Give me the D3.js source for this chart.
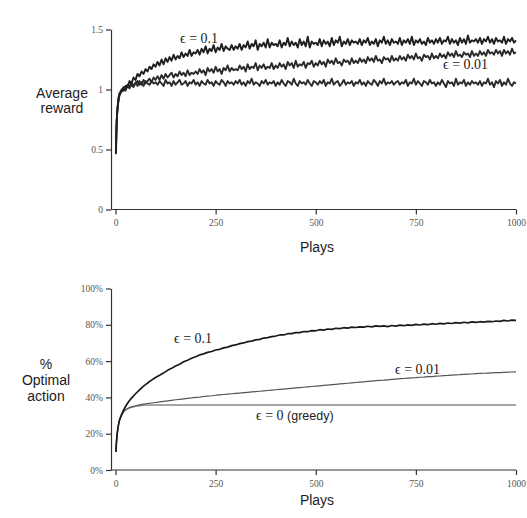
<!DOCTYPE html>
<html>
<head>
<meta charset="utf-8">
<script src="https://cdn.jsdelivr.net/npm/d3@7"></script>
<style>
  body { margin: 0; background: #fff; }
  svg { display: block; }
  .tick text { font-family: "Liberation Serif", serif; font-size: 9.5px; fill: #555; }
  .tick line, .domain { stroke: #333; stroke-width: 1.2; }
  .title { font-family: "Liberation Sans", Arial, sans-serif; font-size: 14px; fill: #222; }
  .eps { font-family: "Liberation Serif", serif; font-size: 14px; fill: #222; }
  .eps .sans { font-family: "Liberation Sans", Arial, sans-serif; font-size: 12.5px; }
</style>
</head>
<body>
<div id="chart"></div>
<script>
// plays sampled for the average reward panel
const earlyPlays = [1, 2, 3, 4, 6, 8];
const rewardPlays = earlyPlays.concat(d3.range(10, 1001, 5));

const rewardEps01 = [
  0.47, 0.63, 0.72, 0.80, 0.87, 0.93,
  0.95, 1.00, 0.99, 1.03, 1.02, 1.07, 1.05, 1.10, 1.08, 1.13, 1.11, 1.15, 1.13, 1.17, 1.15, 1.19, 1.17, 1.21, 1.19,
  1.23, 1.20, 1.25, 1.21, 1.26, 1.23, 1.27, 1.24, 1.29, 1.25, 1.28, 1.26, 1.31, 1.27, 1.30, 1.28, 1.33, 1.28, 1.31, 1.30,
  1.33, 1.29, 1.34, 1.31, 1.36, 1.30, 1.34, 1.32, 1.37, 1.31, 1.35, 1.33, 1.38, 1.32, 1.36, 1.34, 1.33, 1.37, 1.33, 1.36,
  1.34, 1.38, 1.33, 1.37, 1.35, 1.40, 1.34, 1.38, 1.36, 1.41, 1.33, 1.38, 1.36, 1.39, 1.35, 1.42, 1.35, 1.39, 1.37, 1.38,
  1.36, 1.41, 1.35, 1.39, 1.37, 1.43, 1.36, 1.40, 1.37, 1.39, 1.35, 1.42, 1.37, 1.40, 1.36, 1.44, 1.35, 1.40, 1.38, 1.39,
  1.37, 1.42, 1.36, 1.41, 1.38, 1.40, 1.36, 1.43, 1.37, 1.41, 1.39, 1.44, 1.36, 1.40, 1.38, 1.42, 1.37, 1.41, 1.39, 1.40,
  1.38, 1.42, 1.37, 1.41, 1.39, 1.43, 1.37, 1.40, 1.38, 1.42, 1.36, 1.41, 1.39, 1.44, 1.38, 1.41, 1.37, 1.42, 1.39, 1.40,
  1.38, 1.43, 1.37, 1.41, 1.39, 1.42, 1.38, 1.44, 1.37, 1.41, 1.39, 1.42, 1.38, 1.40, 1.37, 1.43, 1.39, 1.41, 1.38, 1.42,
  1.39, 1.43, 1.38, 1.41, 1.40, 1.44, 1.38, 1.42, 1.39, 1.41, 1.37, 1.43, 1.39, 1.42, 1.38, 1.45, 1.39, 1.41, 1.40, 1.42,
  1.39, 1.43, 1.38, 1.42, 1.40, 1.44, 1.39, 1.42, 1.38, 1.43, 1.40, 1.41, 1.39, 1.44, 1.38, 1.42, 1.40, 1.43, 1.39, 1.41
];

const rewardEps001 = [
  0.46, 0.62, 0.73, 0.79, 0.88, 0.92,
  0.96, 0.98, 1.01, 0.99, 1.03, 1.01, 1.04, 1.02, 1.06, 1.03, 1.07, 1.04, 1.08, 1.05, 1.07, 1.09, 1.06, 1.10, 1.08,
  1.11, 1.08, 1.12, 1.09, 1.13, 1.10, 1.12, 1.14, 1.10, 1.13, 1.11, 1.15, 1.12, 1.14, 1.11, 1.16, 1.12, 1.14, 1.13, 1.15,
  1.13, 1.17, 1.14, 1.16, 1.12, 1.18, 1.15, 1.17, 1.14, 1.19, 1.15, 1.17, 1.13, 1.18, 1.16, 1.20, 1.15, 1.18, 1.16, 1.17,
  1.16, 1.20, 1.17, 1.19, 1.15, 1.21, 1.17, 1.19, 1.18, 1.22, 1.16, 1.20, 1.18, 1.21, 1.17, 1.19, 1.18, 1.22, 1.17, 1.20,
  1.18, 1.22, 1.19, 1.21, 1.17, 1.23, 1.20, 1.22, 1.18, 1.24, 1.19, 1.21, 1.20, 1.23, 1.18, 1.22, 1.21, 1.24, 1.19, 1.22,
  1.20, 1.24, 1.21, 1.23, 1.19, 1.25, 1.22, 1.24, 1.21, 1.26, 1.22, 1.23, 1.20, 1.25, 1.23, 1.24, 1.21, 1.26, 1.22, 1.24,
  1.22, 1.26, 1.23, 1.25, 1.22, 1.27, 1.24, 1.26, 1.23, 1.28, 1.24, 1.25, 1.22, 1.27, 1.25, 1.26, 1.23, 1.28, 1.24, 1.26,
  1.24, 1.28, 1.25, 1.27, 1.24, 1.29, 1.26, 1.28, 1.25, 1.30, 1.26, 1.27, 1.24, 1.29, 1.27, 1.28, 1.25, 1.30, 1.26, 1.28,
  1.26, 1.30, 1.27, 1.29, 1.26, 1.31, 1.28, 1.30, 1.27, 1.32, 1.28, 1.29, 1.27, 1.31, 1.29, 1.30, 1.27, 1.32, 1.28, 1.30,
  1.28, 1.32, 1.29, 1.31, 1.28, 1.33, 1.30, 1.31, 1.29, 1.33, 1.30, 1.32, 1.28, 1.33, 1.30, 1.32, 1.29, 1.34, 1.30, 1.31
];

const rewardGreedy = [
  0.48, 0.61, 0.73, 0.81, 0.87, 0.94,
  0.97, 0.99, 1.02, 1.00, 1.04, 1.02, 1.06, 1.03, 1.05, 1.07, 1.04, 1.06, 1.03, 1.07, 1.05, 1.04, 1.07, 1.05, 1.06,
  1.04, 1.07, 1.05, 1.03, 1.08, 1.05, 1.06, 1.03, 1.07, 1.04, 1.06, 1.08, 1.04, 1.05, 1.07, 1.03, 1.06, 1.05, 1.08, 1.04,
  1.06, 1.03, 1.07, 1.05, 1.04, 1.08, 1.05, 1.06, 1.03, 1.07, 1.05, 1.04, 1.08, 1.06, 1.03, 1.07, 1.05, 1.06, 1.04, 1.07,
  1.05, 1.08, 1.04, 1.06, 1.03, 1.07, 1.05, 1.09, 1.04, 1.06, 1.05, 1.03, 1.07, 1.05, 1.08, 1.04, 1.06, 1.05, 1.07, 1.03,
  1.06, 1.04, 1.08, 1.05, 1.03, 1.07, 1.06, 1.04, 1.09, 1.05, 1.03, 1.07, 1.05, 1.06, 1.04, 1.08, 1.05, 1.03, 1.07, 1.06,
  1.04, 1.07, 1.05, 1.08, 1.03, 1.06, 1.05, 1.09, 1.04, 1.06, 1.07, 1.03, 1.05, 1.08, 1.04, 1.06, 1.05, 1.07, 1.03, 1.06,
  1.05, 1.08, 1.04, 1.06, 1.03, 1.07, 1.05, 1.04, 1.08, 1.06, 1.03, 1.07, 1.05, 1.09, 1.04, 1.06, 1.05, 1.07, 1.04, 1.06,
  1.07, 1.04, 1.06, 1.05, 1.08, 1.03, 1.06, 1.05, 1.09, 1.04, 1.07, 1.05, 1.03, 1.07, 1.06, 1.04, 1.08, 1.05, 1.06, 1.03,
  1.06, 1.04, 1.08, 1.05, 1.02, 1.07, 1.05, 1.06, 1.03, 1.09, 1.04, 1.06, 1.05, 1.08, 1.03, 1.06, 1.04, 1.07, 1.05, 1.06,
  1.04, 1.07, 1.03, 1.06, 1.05, 1.09, 1.04, 1.06, 1.02, 1.07, 1.05, 1.08, 1.03, 1.06, 1.04, 1.09, 1.05, 1.03, 1.06, 1.05
];

// plays sampled for the % optimal action panel
const optimalEarly = [1, 2, 3, 4, 6, 8, 10, 15, 20, 25, 30, 35, 40, 50, 60, 70, 80, 90, 100];
const optimalPlays = optimalEarly.concat(d3.range(110, 1001, 10));
const greedyOptimalPlays = optimalEarly.concat([1000]);

const optimalEps01 = [
  10, 14, 17, 19.5, 23, 25.5, 27.5, 30.5, 33, 35, 36.8, 38.3, 39.6, 42, 44.2, 46.2, 47.9, 49.5, 51,
  52.2, 53.5, 54.9, 56.0, 57.3, 58.3, 59.6, 60.5, 61.6, 62.4,
  63.4, 64.0, 64.8, 65.3, 66.1, 66.5, 67.3, 67.7, 68.5, 68.9,
  69.6, 70.0, 70.7, 71.0, 71.7, 72.0, 72.7, 72.9, 73.5, 73.8,
  74.4, 74.4, 75.1, 75.1, 75.7, 75.7, 76.3, 76.2, 76.8, 76.7,
  77.3, 77.1, 77.7, 77.5, 78.1, 77.9, 78.4, 78.2, 78.7, 78.5,
  78.9, 78.7, 79.2, 78.9, 79.4, 79.1, 79.4, 79.0, 79.6, 79.3,
  79.8, 79.5, 80.0, 79.7, 80.2, 79.9, 80.4, 80.1, 80.6, 80.3,
  80.8, 80.5, 81.0, 80.7, 81.2, 80.9, 81.4, 81.1, 81.6, 81.3,
  81.7, 81.5, 81.9, 81.7, 82.1, 81.9, 82.4, 82.1, 82.6, 82.4
];

const optimalEps001 = [
  10, 14, 17, 19.5, 23, 25.5, 27.5, 30, 32, 33.2, 33.9, 34.4, 34.8, 35.4, 35.9, 36.3, 36.6, 36.9, 37.2,
  37.5, 37.8, 38.1, 38.4, 38.7, 38.9, 39.2, 39.5, 39.7, 40.0,
  40.2, 40.5, 40.7, 40.9, 41.2, 41.4, 41.6, 41.8, 42.0, 42.2,
  42.4, 42.6, 42.8, 43.0, 43.2, 43.4, 43.6, 43.8, 44.0, 44.2,
  44.4, 44.6, 44.8, 45.0, 45.2, 45.4, 45.6, 45.8, 46.0, 46.2,
  46.4, 46.6, 46.8, 47.0, 47.2, 47.4, 47.6, 47.8, 48.0, 48.2,
  48.4, 48.6, 48.8, 49.0, 49.2, 49.4, 49.5, 49.7, 49.9, 50.1,
  50.3, 50.4, 50.6, 50.8, 50.9, 51.1, 51.2, 51.4, 51.5, 51.7,
  51.8, 52.0, 52.1, 52.3, 52.4, 52.5, 52.7, 52.8, 52.9, 53.1,
  53.2, 53.3, 53.4, 53.5, 53.6, 53.7, 53.8, 53.9, 54.0, 54.1
];

const optimalGreedy = [
  10, 14, 17, 19.5, 23, 25.5, 27.5, 30, 32, 33, 33.6, 34.1, 34.5, 35.0, 35.4, 35.6, 35.7, 35.8, 35.8,
  35.8
];

const playTicks = [0, 250, 500, 750, 1000];
const rewardTicks = [0, 0.5, 1, 1.5];
const optimalTicks = [0, 20, 40, 60, 80, 100];

const width = 527;
const height = 518;
const axisX = 111;

const svg = d3.select("#chart")
              .append("svg")
              .attr("width", width)
              .attr("height", height);

const x = d3.scaleLinear().domain([0, 1000]).range([115.5, 516]);
const yReward = d3.scaleLinear().domain([0, 1.5]).range([209.5, 29.5]);
const yOptimal = d3.scaleLinear().domain([0, 100]).range([470, 288.5]);

function drawAxes(y, ticks, format){
  const g = svg.append("g");
  g.append("g")
   .attr("transform", `translate(0,${y.range()[0]})`)
   .call(d3.axisBottom(x).tickValues(playTicks).tickFormat(d => d).tickSize(5).tickSizeOuter(0).tickPadding(5))
   .call(s => s.select(".domain").attr("d", `M${axisX},0H${x.range()[1]}`));
  g.append("g")
   .attr("transform", `translate(${axisX},0)`)
   .call(d3.axisLeft(y).tickValues(ticks).tickFormat(format).tickSize(5).tickSizeOuter(0).tickPadding(3));
  g.selectAll(".tick text").attr("font-family", null).attr("font-size", null);
}

function drawSeries(plays, values, y, colour, w){
  const pts = plays.map((p, i) => [p, values[i]]).filter(d => d[1] !== undefined);
  svg.append("path")
     .datum(pts)
     .attr("fill", "none")
     .attr("stroke", colour)
     .attr("stroke-width", w)
     .attr("stroke-linejoin", "round")
     .attr("d", d3.line().x(d => x(d[0])).y(d => y(d[1])));
}

function label(lines, cx, y0, step){
  const t = svg.append("text").attr("class", "title").attr("text-anchor", "middle");
  lines.forEach((s, i) => {
    t.append("tspan").attr("x", cx).attr("y", y0 + i * step).text(s);
  });
}

function epsLabel(txt, tx, ty, extra){
  const t = svg.append("text").attr("class", "eps").attr("x", tx).attr("y", ty).text(txt);
  if(extra) t.append("tspan").attr("class", "sans").text(extra);
}

// top panel: average reward
drawAxes(yReward, rewardTicks, d => d);
drawSeries(rewardPlays, rewardGreedy, yReward, "#2a2a2a", 1.9);
drawSeries(rewardPlays, rewardEps001, yReward, "#2a2a2a", 1.9);
drawSeries(rewardPlays, rewardEps01, yReward, "#1e1e1e", 1.9);
label(["Average", "reward"], 62, 98, 15);
label(["Plays"], 317, 252, 0);
epsLabel("\u03f5 = 0.1", 180, 43);
epsLabel("\u03f5 = 0.01", 443, 69);

// bottom panel: % optimal action
drawAxes(yOptimal, optimalTicks, d => d + "%");
drawSeries(greedyOptimalPlays, optimalGreedy, yOptimal, "#888", 1.3);
drawSeries(optimalPlays, optimalEps001, yOptimal, "#555", 1.2);
drawSeries(optimalPlays, optimalEps01, yOptimal, "#1a1a1a", 1.7);
label(["%", "Optimal", "action"], 46, 369, 16);
label(["Plays"], 317, 505, 0);
epsLabel("\u03f5 = 0.1", 174, 343);
epsLabel("\u03f5 = 0.01", 395, 374);
epsLabel("\u03f5 = 0 ", 256, 420, "(greedy)");
</script>
</body>
</html>
